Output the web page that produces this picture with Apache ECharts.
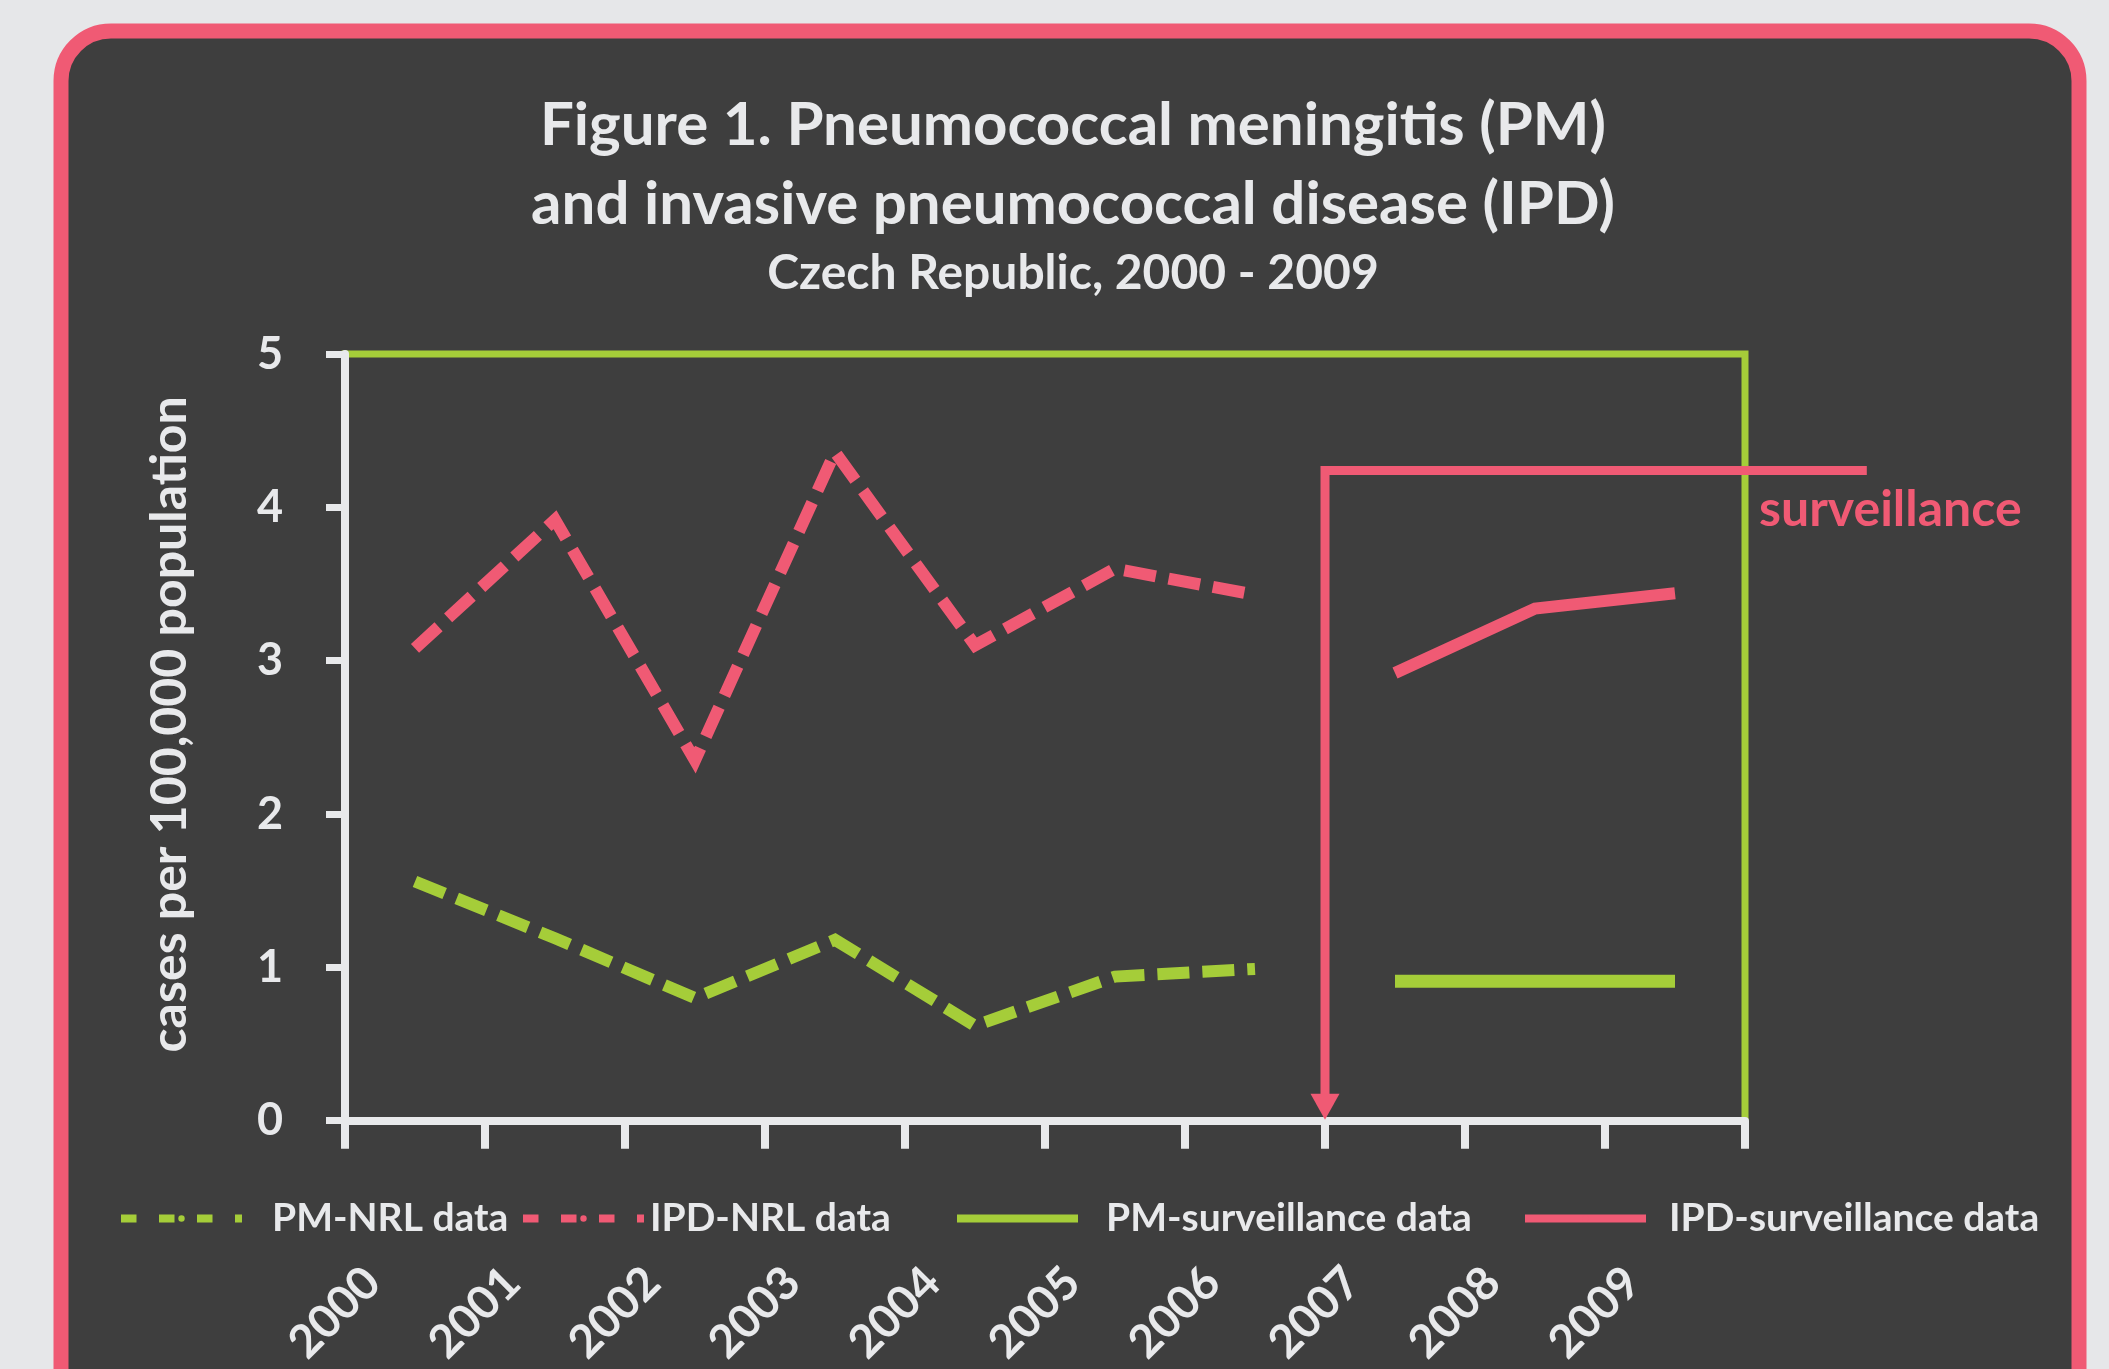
<!DOCTYPE html>
<html>
<head>
<meta charset="utf-8">
<script src="https://cdn.jsdelivr.net/npm/echarts@6/dist/echarts.min.js"></script>
<style>
html,body{margin:0;padding:0;background:#e6e7e9;}
#chart{width:2109px;height:1369px;}
</style>
</head>
<body>
<div id="chart"></div>
<script>
// ---- data ----
const years = ['2000','2001','2002','2003','2004','2005','2006','2007','2008','2009'];
const pmNrl   = [1.56, 1.19, 0.80, 1.18, 0.62, 0.94, 0.99, null, null, null];
const ipdNrl  = [3.08, 3.92, 2.35, 4.36, 3.10, 3.60, 3.43, null, null, null];
const pmSurv  = [null, null, null, null, null, null, null, 0.91, 0.91, 0.91];
const ipdSurv = [null, null, null, null, null, null, null, 2.92, 3.34, 3.44];
const yTicks = [0, 1, 2, 3, 4, 5];
const surveillanceLevel = 4.24;   // height of the surveillance bracket

const PINK = '#f05a74', GREEN = '#a5cd39', DARK = '#3e3e3e', WHITE = '#e8e9eb';
const FONT = 'Lato';

const chart = echarts.init(document.getElementById('chart'), null, {renderer: 'canvas'});

function legendFor(name, left, color, dashed, textPad) {
  return {
    show: true, left: left, top: 1199, padding: 0, orient: 'horizontal',
    data: [{name: name}],
    itemWidth: 121, itemHeight: 8,
    lineStyle: {width: 8, type: dashed ? [15.5, 22.5] : 'solid', cap: 'butt', color: color},
    textStyle: {color: WHITE, fontFamily: FONT, fontWeight: 'bold', fontSize: 39, padding: [0, 0, 0, textPad]},
    selectedMode: false
  };
}

const option = {
  backgroundColor: '#e6e7e9',
  animation: false,
  title: {
    left: 1068, top: 81, textAlign: 'center',
    text: 'Figure 1. Pneumococcal meningitis (PM)\nand invasive pneumococcal disease (IPD)',
    textStyle: {color: WHITE, fontFamily: FONT, fontWeight: 'bold', fontSize: 60, lineHeight: 79},
    subtext: 'Czech Republic, 2000 - 2009',
    subtextStyle: {color: WHITE, fontFamily: FONT, fontWeight: 'bold', fontSize: 48, lineHeight: 52},
    itemGap: 4
  },
  legend: [
    legendFor('PM-NRL data', 117, GREEN, true, 25),
    legendFor('IPD-NRL data', 519, PINK, true, 1),
    legendFor('PM-surveillance data', 953, GREEN, false, 23),
    legendFor('IPD-surveillance data', 1521, PINK, false, 18)
  ],
  grid: {
    left: 345, right: 364, top: 354, bottom: 248,
    show: true, borderColor: GREEN, borderWidth: 7, backgroundColor: 'transparent'
  },
  xAxis: {
    type: 'category', data: years, boundaryGap: true,
    axisLine: {show: true, lineStyle: {color: WHITE, width: 8}},
    axisTick: {show: true, length: 28, lineStyle: {color: WHITE, width: 8}},
    axisLabel: {
      interval: 0, rotate: 45, margin: 112, padding: [0, 60, 0, 0],
      color: WHITE, fontFamily: FONT, fontWeight: 'bold', fontSize: 46
    },
    splitLine: {show: false}
  },
  yAxis: {
    type: 'value', min: yTicks[0], max: yTicks[yTicks.length - 1], interval: 1,
    name: 'cases per 100,000 population', nameLocation: 'middle', nameRotate: 90, nameGap: 150,
    nameTextStyle: {color: WHITE, fontFamily: FONT, fontWeight: 'bold', fontSize: 50, padding: [0, 0, 0, 26]},
    axisLine: {show: true, lineStyle: {color: WHITE, width: 8}},
    axisTick: {show: true, length: 19, lineStyle: {color: WHITE, width: 7}},
    axisLabel: {margin: 62, color: WHITE, fontFamily: FONT, fontWeight: 'bold', fontSize: 45},
    splitLine: {show: false}
  },
  series: [
    {name: 'PM-NRL data', type: 'line', data: pmNrl, symbol: 'none', connectNulls: false,
     lineStyle: {color: GREEN, width: 12, type: [32, 13], cap: 'butt', join: 'miter'}, itemStyle: {color: GREEN}},
    {name: 'IPD-NRL data', type: 'line', data: ipdNrl, symbol: 'none', connectNulls: false,
     lineStyle: {color: PINK, width: 12, type: [32, 13], cap: 'butt', join: 'miter'}, itemStyle: {color: PINK}},
    {name: 'PM-surveillance data', type: 'line', data: pmSurv, symbol: 'none', connectNulls: false,
     lineStyle: {color: GREEN, width: 13, type: 'solid', cap: 'butt', join: 'miter'}, itemStyle: {color: GREEN}},
    {name: 'IPD-surveillance data', type: 'line', data: ipdSurv, symbol: 'none', connectNulls: false,
     lineStyle: {color: PINK, width: 12, type: 'solid', cap: 'butt', join: 'miter'}, itemStyle: {color: PINK}}
  ],
  graphic: [
    {type: 'rect', z: -100, silent: true,
     shape: {x: 61, y: 31, width: 2018, height: 1400, r: 50},
     style: {fill: DARK, stroke: PINK, lineWidth: 15}}
  ]
};

chart.setOption(option);

// annotation bracket derived from the axes
const x6 = chart.convertToPixel({xAxisIndex: 0}, years[6]);
const x7 = chart.convertToPixel({xAxisIndex: 0}, years[7]);
const x9 = chart.convertToPixel({xAxisIndex: 0}, years[9]);
const step = x7 - x6;
const bx = (x6 + x7) / 2;
const yTop = chart.convertToPixel({yAxisIndex: 0}, surveillanceLevel);
const yBot = chart.convertToPixel({yAxisIndex: 0}, 0);
const xRight = x9 + 1.37 * step;
const gridRight = x9 + step / 2;

chart.setOption({
  graphic: [
    {type: 'rect', z: -100, silent: true,
     shape: {x: 61, y: 31, width: 2018, height: 1400, r: 50},
     style: {fill: DARK, stroke: PINK, lineWidth: 15}},
    {type: 'polyline', z: 50, silent: true,
     shape: {points: [[bx, yBot - 22], [bx, yTop], [xRight, yTop]]},
     style: {stroke: PINK, lineWidth: 9, fill: null, lineJoin: 'miter'}},
    {type: 'polygon', z: 50, silent: true,
     shape: {points: [[bx - 14.5, yBot - 27], [bx + 14.5, yBot - 27], [bx, yBot - 1]]},
     style: {fill: PINK}},
    {type: 'text', z: 50, silent: true,
     x: gridRight + 14, y: yTop + 39,
     style: {text: 'surveillance', fill: PINK, font: 'bold 50px Lato', textAlign: 'left', textVerticalAlign: 'middle'}}
  ]
});
</script>
</body>
</html>
